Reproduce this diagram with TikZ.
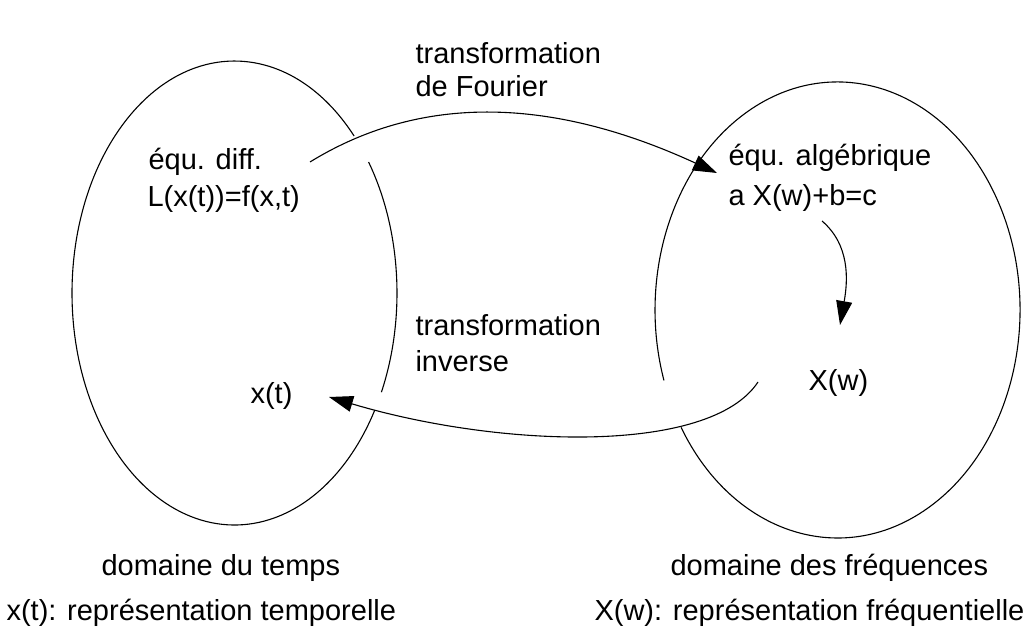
\documentclass[tikz,border=0pt]{standalone}
\usepackage{fontspec}
\setmainfont{Liberation Sans}
\usetikzlibrary{arrows.meta}
\begin{document}
\begin{tikzpicture}[x=1pt,y=1pt,line width=1.1pt,
  lbl/.style={anchor=base west,inner sep=0pt,font=\fontsize{29}{33}\selectfont},
  conn/.style={-{Triangle[length=24pt,width=16pt]}},
  domainline/.style={line width=1.1pt}]
\useasboundingbox (0,0) rectangle (1024,637);
% domains (ellipses with gaps where the arrows pass)
\coordinate (Lc) at (234.5,344);
\coordinate (Rc) at (837.5,327);
\draw[domainline] (354.1,501) arc[start angle=42.6,end angle=329.7,x radius=162.5,y radius=232];
\draw[domainline] (381.4,244.8) arc[start angle=-25.3,end angle=34.4,x radius=162.5,y radius=232];
\draw[domainline] (681.1,209.6) arc[start angle=211,end angle=558,x radius=182.5,y radius=228];
% labels
\node[lbl] (trA) at (415,573) {transformation};
\node[lbl] (trB) at (415,540) {de Fourier};
\node[lbl] (eqdiff) at (148,467) {équ. diff.};
\node[lbl] (Lx) at (147,430) {L(x(t))=f(x,t)};
\node[lbl] (eqalg) at (728,471) {équ. algébrique};
\node[lbl] (axw) at (728,431) {a X(w)+b=c};
\node[lbl] (invA) at (415,301) {transformation};
\node[lbl] (invB) at (415,265) {inverse};
\node[lbl] (xt) at (250,233) {x(t)};
\node[lbl] (Xw) at (808,246) {X(w)};
\node[lbl] (dt) at (101,62) {domaine du temps};
\node[lbl] (df) at (670,62) {domaine des fréquences};
\node[lbl] (rt) at (6,17) {x(t): représentation temporelle};
\node[lbl] (rf) at (594,17) {X(w): représentation fréquentielle};
% connector end points
\coordinate (fsrc) at (310,475);
\coordinate (fdst) at (717,464);
\coordinate (isrc) at (758,255);
\coordinate (idst) at (329,240);
\coordinate (ssrc) at (822,416);
\coordinate (sdst) at (840,312);
% connectors
\draw[conn] (fsrc) .. controls (440,555) and (580,527) .. (fdst);
\draw[conn] (isrc) .. controls (710,182) and (500,189) .. (idst);
\draw[conn] (ssrc) .. controls (850,392) and (848,357) .. (sdst);
\end{tikzpicture}
\end{document}
